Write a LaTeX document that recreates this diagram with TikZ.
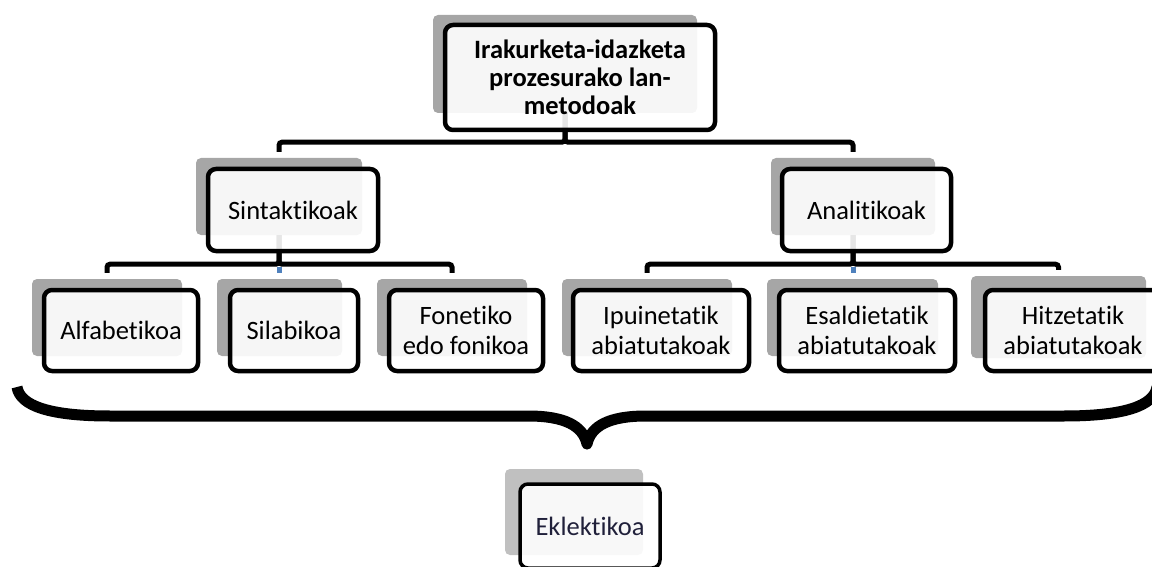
\documentclass[tikz,border=0pt]{standalone}
\usepackage{fontspec}
\setmainfont{Carlito}[Ligatures=NoCommon]
\definecolor{shad}{HTML}{A6A6A6}
\definecolor{shadl}{HTML}{C0C0C0}
\definecolor{bluec}{HTML}{4F81BD}
\definecolor{txtb}{HTML}{20203A}
\tikzset{
  shadowbox/.style={fill=shad, rounded corners=5pt, inner sep=0pt, draw=none},
  frontbox/.style={draw=black, line width=4.5pt, rounded corners=8pt, fill=white,
    fill opacity=0.9, text opacity=1, inner sep=0pt, align=center,
    font=\fontsize{26.5}{30}\selectfont},
  conn/.style={draw=black, line width=5pt, rounded corners=3pt},
  bluelink/.style={draw=bluec, line width=5pt},
  bracestyle/.style={draw=black, line width=11pt, line join=round}
}
\begin{document}
\begin{tikzpicture}[x=1pt,y=-1pt]
\path[use as bounding box] (0,0) rectangle (1152,567);
\clip (0,0) rectangle (1152,567);
% shadows (connector anchors)
\node[shadowbox, minimum width=264pt, minimum height=98pt] (top) at (565,64) {};
\node[shadowbox, minimum width=166pt, minimum height=77pt] (sint) at (279,196.5) {};
\node[shadowbox, minimum width=164pt, minimum height=77pt] (anal) at (853,196.5) {};
\node[shadowbox, minimum width=150pt, minimum height=77pt] (alfa) at (107,317.5) {};
\node[shadowbox, minimum width=125pt, minimum height=77pt] (sila) at (279.5,317.5) {};
\node[shadowbox, minimum width=150pt, minimum height=77pt] (fone) at (452,317.5) {};
\node[shadowbox, minimum width=170pt, minimum height=77pt] (ipui) at (647,317.5) {};
\node[shadowbox, minimum width=171pt, minimum height=77pt] (esal) at (852.5,317.5) {};
\node[shadowbox, minimum width=175pt, minimum height=82pt] (hitz) at (1058.5,317) {};
\node[shadowbox, fill=shadl, minimum width=138pt, minimum height=86pt] (ekle) at (574,512) {};
% connectors
\draw[conn] (top.south) -- ++(0,29) -| ([yshift=6pt]sint.north);
\draw[conn] (top.south) -- ++(0,29) -| ([yshift=6pt]anal.north);
\draw[conn] (sint.south) -- ++(0,29) -| ([yshift=6pt]alfa.north);
\draw[conn] (sint.south) -- ++(0,29) coordinate (sbar) -| ([yshift=6pt]fone.north);
\draw[bluelink] ([yshift=-2.5pt]sbar) -- ([yshift=6pt]sbar |- sila.north);
\draw[conn] (anal.south) -- ++(0,29) -| ([yshift=6pt]ipui.north);
\draw[conn] (anal.south) -- ++(0,29) coordinate (abar) -| ([yshift=6pt]hitz.north);
\draw[bluelink] ([yshift=-2.5pt]abar) -- ([yshift=6pt]abar |- esal.north);
% brace
\draw[bracestyle] (17,387) .. controls (20,406) and (50,416) .. (110,416) -- (528,416)
  .. controls (565,416) and (583,426) .. (587,444)
  .. controls (591,426) and (609,416) .. (646,416) -- (1064,416)
  .. controls (1124,416) and (1154,406) .. (1157,387);
% front boxes
\node[frontbox, minimum width=270pt, minimum height=105pt, font=\bfseries\fontsize{26.5}{28}\selectfont] (topf) at (580,77.5) {Irakurketa-idazketa\\prozesurako lan-\\metodoak};
\node[frontbox, minimum width=170pt, minimum height=82pt] (sintf) at (293,210) {Sintaktikoak};
\node[frontbox, minimum width=169pt, minimum height=82pt] (analf) at (866.5,210) {Analitikoak};
\node[frontbox, minimum width=154pt, minimum height=81pt] (alfaf) at (121,330.5) {Alfabetikoa};
\node[frontbox, minimum width=128pt, minimum height=81pt] (silaf) at (294,330.5) {Silabikoa};
\node[frontbox, minimum width=154pt, minimum height=81pt] (fonef) at (466,330.5) {Fonetiko\\edo fonikoa};
\node[frontbox, minimum width=176pt, minimum height=81pt] (ipuif) at (661,330.5) {Ipuinetatik\\abiatutakoak};
\node[frontbox, minimum width=176pt, minimum height=81pt] (esalf) at (867,330.5) {Esaldietatik\\abiatutakoak};
\node[frontbox, minimum width=176pt, minimum height=81pt] (hitzf) at (1073,330.5) {Hitzetatik\\abiatutakoak};
\node[frontbox, line width=3.5pt, minimum width=140pt, minimum height=84pt, text=txtb] (eklef) at (590,526) {Eklektikoa};
\end{tikzpicture}
\end{document}
